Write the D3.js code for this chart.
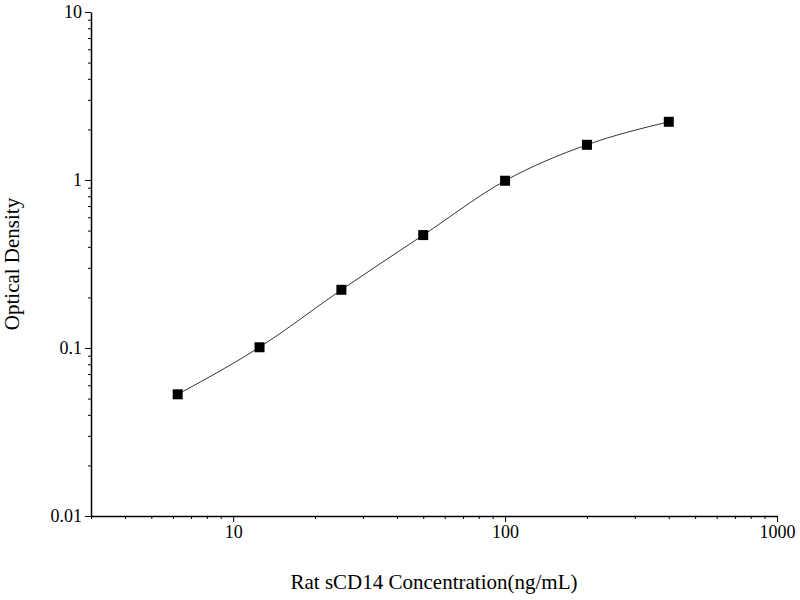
<!DOCTYPE html>
<html><head><meta charset="utf-8">
<script src="https://cdn.jsdelivr.net/npm/d3@7"></script>
<style>body{margin:0;background:#fff}svg{font-family:"Liberation Serif","Times New Roman",serif}</style>
</head><body><svg width="800" height="600"></svg>
<script>
const concentrations=[6.25,12.5,25,50,100,200,400];
const od=[0.053,0.101,0.222,0.47,0.99,1.62,2.22];
const xTicks=[10,100,1000];
const yTicks=[0.01,0.1,1,10];
const svg=d3.select("svg");
const x=d3.scaleLog().domain([3,1000]).range([91,777]);
const y=d3.scaleLog().domain([0.01,10]).range([516,12]);
const xMinor=[],yMinor=[];
for(let d=1;d<=100;d*=10)for(let k=2;k<=9;k++){const v=k*d;if(v>=3&&v<1000)xMinor.push(v);}
for(let d=0.01;d<10;d*=10)for(let k=2;k<=9;k++)yMinor.push(k*d);
const ga=svg.append("g").attr("transform","translate(0,516)");
ga.call(d3.axisBottom(x).tickValues(xTicks).tickFormat(d3.format("d")).tickSize(6).tickSizeOuter(0));
ga.append("g").call(d3.axisBottom(x).tickValues(xMinor).tickFormat("").tickSize(3).tickSizeOuter(0)).select(".domain").remove();
const gy=svg.append("g").attr("transform","translate(91,0)");
gy.call(d3.axisLeft(y).tickValues(yTicks).tickFormat(d=>d>=1?d3.format("d")(d):String(d)).tickSize(6).tickSizeOuter(0));
gy.append("g").call(d3.axisLeft(y).tickValues(yMinor).tickFormat("").tickSize(3).tickSizeOuter(0)).select(".domain").remove();
svg.selectAll(".tick text").attr("font-size",18).attr("fill","#000").style("font-family","Liberation Serif");
svg.selectAll(".domain").attr("stroke","#000").attr("stroke-width",1.5);
const data=concentrations.map((c,i)=>[c,od[i]]);
svg.append("path").datum(data).attr("fill","none").attr("stroke","#000").attr("stroke-width",0.8)
 .attr("d",d3.line().x(d=>x(d[0])).y(d=>y(d[1])).curve(d3.curveMonotoneX));
svg.selectAll("rect.pt").data(data).join("rect").attr("class","pt")
 .attr("x",d=>x(d[0])-5).attr("y",d=>y(d[1])-5).attr("width",10).attr("height",10).attr("fill","#000");
svg.append("text").attr("x",434).attr("y",589).attr("text-anchor","middle").attr("font-size",21).text("Rat sCD14 Concentration(ng/mL)");
svg.append("text").attr("transform","translate(19,264) rotate(-90)").attr("text-anchor","middle").attr("font-size",21).text("Optical Density");
</script></body></html>
